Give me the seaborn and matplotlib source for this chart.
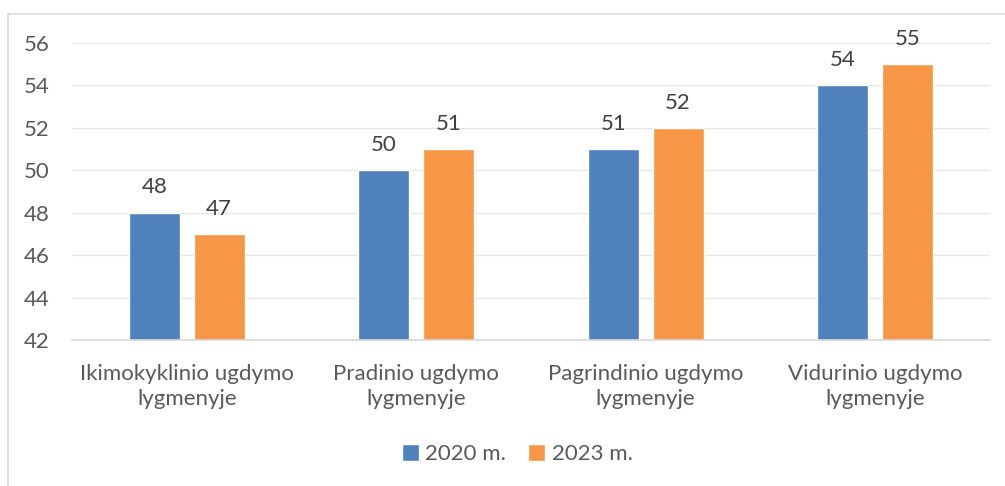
import numpy as np
import pandas as pd
import matplotlib
matplotlib.use("Agg")
import matplotlib.pyplot as plt
import seaborn as sns
from matplotlib.patches import Rectangle

# ---------------- DATA ----------------
categories = ["Ikimokyklinio ugdymo\nlygmenyje", "Pradinio ugdymo\nlygmenyje",
              "Pagrindinio ugdymo\nlygmenyje", "Vidurinio ugdymo\nlygmenyje"]
series = ["2020 m.", "2023 m."]
values_2020 = [48, 50, 51, 54]
values_2023 = [47, 51, 52, 55]
yticks = [42, 44, 46, 48, 50, 52, 54, 56]

colors = ["#4F81BD", "#F79646"]
text_col = "#595959"

df = pd.DataFrame({
    "cat": categories * 2,
    "year": [series[0]] * 4 + [series[1]] * 4,
    "val": values_2020 + values_2023,
})

# ---------------- PLOT ----------------
sns.set_theme(style="white")
plt.rcParams['font.family'] = ['Lato', 'DejaVu Sans']
FS = 16

fig = plt.figure(figsize=(10.05, 4.86), dpi=100)
ax = fig.add_axes([0.0716, 0.3004, 0.9134, 0.6111])

sns.barplot(data=df, x="cat", y="val", hue="year", palette=colors,
            width=0.566, gap=0.215, ax=ax, saturation=1, legend=True)

ax.set_ylim(42, 56)
ax.set_yticks(yticks)
ax.yaxis.grid(True, color="#E6E6E6", linewidth=1)
ax.set_axisbelow(True)
for s in ["top", "right", "left"]:
    ax.spines[s].set_visible(False)
ax.spines["bottom"].set_color("#D9D9D9")
ax.spines["bottom"].set_linewidth(1.2)
ax.tick_params(axis="both", length=0, labelsize=FS, colors=text_col)
ax.tick_params(axis="y", pad=16)
ax.tick_params(axis="x", pad=17)
for lbl in ax.get_xticklabels():
    lbl.set_linespacing(1.35)
ax.set_xlabel("")
ax.set_ylabel("")

for cont in ax.containers:
    ax.bar_label(cont, padding=11, fontsize=FS, color="#404040")

handles, labels = ax.get_legend_handles_labels()
ax.legend(handles, labels, loc="center", bbox_to_anchor=(0.485, -0.385),
          ncol=2, frameon=False, fontsize=FS, labelcolor=text_col,
          handlelength=0.75, handleheight=0.75, handletextpad=0.3, columnspacing=1.0)

# chart frame (cropped at right and bottom)
fig.patches.append(Rectangle((8 / 1005, -0.1), 1.2, (486 - 14) / 486 + 0.1,
                             transform=fig.transFigure, fill=False,
                             edgecolor="#D9D9D9", linewidth=1.2))

fig.savefig("out.png", dpi=100)
